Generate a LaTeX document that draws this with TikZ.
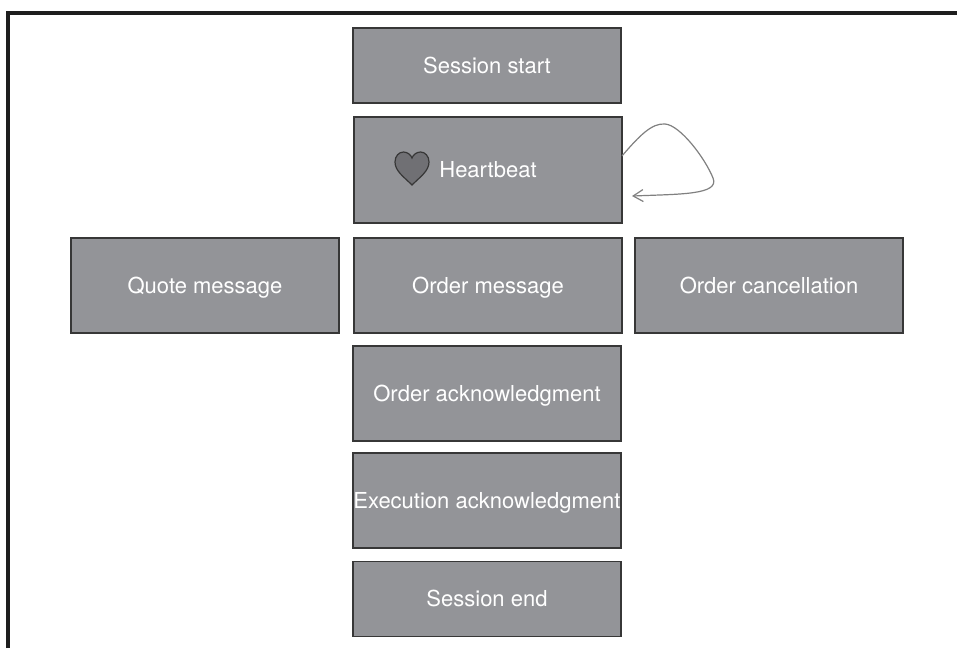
\documentclass[tikz,border=0pt]{standalone}
\usepackage{fontspec}
\setmainfont{TeX Gyre Heros}
\usetikzlibrary{arrows.meta}
\definecolor{boxgray}{RGB}{147,148,152}
\definecolor{boxline}{RGB}{55,55,55}
\definecolor{heartgray}{RGB}{112,112,116}
\definecolor{loopgray}{RGB}{128,128,128}
\definecolor{framegray}{RGB}{30,30,30}
\begin{document}
\begin{tikzpicture}[x=0.5pt,y=-0.5pt,inner sep=0pt,outer sep=0pt,
msgblock/.style={draw=boxline,fill=boxgray,line width=0.6pt,rectangle,minimum width=134pt,minimum height=47.5pt,text=white,text height=9.5pt,text depth=1.7pt,font=\fontsize{11}{13}\selectfont},
shortblock/.style={msgblock,minimum height=37.5pt}]
\useasboundingbox (0,0) rectangle (957,648);
\draw[framegray,line width=1.6pt] (8,648) -- (8,13) -- (957,13);
% session column
\draw (487,65.5) node[shortblock] (start) {Session start};
\draw (488,170) node[msgblock,minimum height=53pt] (hb) {Heartbeat};
\draw (205,285.5) node[msgblock] (quote) {Quote message};
\draw (488,285.5) node[msgblock] (order) {Order message};
\draw (769,285.5) node[msgblock] (cancel) {Order cancellation};
\draw (487,393.5) node[msgblock] (ack) {Order acknowledgment};
\draw (487,500.5) node[msgblock] (exec) {Execution acknowledgment};
\draw (487,599) node[shortblock] (end) {Session end};
% heart
\draw[fill=heartgray,draw=boxline,line width=0.6pt] (412,185) .. controls (404,177) and (395,171) .. (395,162)
  .. controls (395,156) and (399,152) .. (403.5,152) .. controls (407.5,152) and (411,155) .. (412,158)
  .. controls (413,155) and (416.5,152) .. (420.5,152) .. controls (425,152) and (429,156) .. (429,162)
  .. controls (429,171) and (420,177) .. (412,185) -- cycle;
% heartbeat loop
\coordinate (looptop) at (665,124);
\coordinate (loopright) at (713,178);
\draw[-{Straight Barb[length=5pt,width=6pt]},loopgray,line width=0.6pt] (hb.6) .. controls (640,135) and (652,123) .. (looptop)
  .. controls (680,125) and (705,158) .. (loopright) .. controls (720,195) and (680,194) .. ([xshift=5pt]hb.-11);
\end{tikzpicture}
\end{document}
